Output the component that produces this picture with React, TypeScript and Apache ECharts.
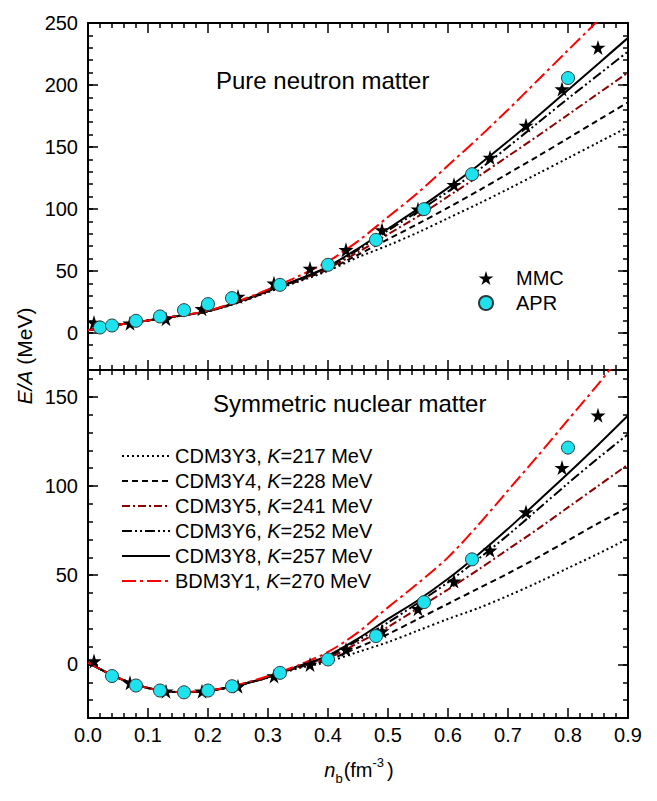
import React, { useEffect, useRef } from 'react';
import * as echarts from 'echarts';

// ---------- data ----------
const densityGrid = [0, 0.05, 0.1, 0.15, 0.2, 0.25, 0.3, 0.35, 0.4, 0.45, 0.5, 0.55, 0.6, 0.65, 0.7, 0.75, 0.8, 0.85, 0.9];

const models = ['CDM3Y3', 'CDM3Y4', 'CDM3Y5', 'CDM3Y6', 'CDM3Y8', 'BDM3Y1'];
const kValues = [217, 228, 241, 252, 257, 270];

// Pure neutron matter E/A (MeV)
const pnmY3 = [2, 6.5, 10, 13.5, 17.5, 24.2, 32.8, 41.2, 50, 61, 70.5, 81, 92.5, 104, 116, 128.5, 141, 153.5, 166];
const pnmY4 = [2, 6.5, 10, 13.5, 17.5, 24.4, 33.2, 41.8, 51, 63, 75.5, 88, 101, 114.5, 128.5, 142.5, 157, 171.5, 186];
const pnmY5 = [2, 6.5, 10, 13.5, 17.5, 24.6, 33.5, 42.3, 52, 65, 79.5, 94, 110, 126, 142.5, 159, 176, 193, 210];
const pnmY6 = [2, 6.5, 10, 13.5, 17.5, 24.8, 33.8, 42.8, 53, 67, 82.5, 98, 114, 131, 150, 169.5, 189, 208, 227];
const pnmY8 = [2, 6.5, 10, 13.5, 17.5, 25, 34, 43, 53.5, 68, 84, 100, 117, 135, 154.5, 175, 196, 217, 238];
const pnmB1 = [2, 6.5, 10, 13.5, 17.8, 25.5, 35, 45.5, 57.5, 74, 93.5, 113, 135, 157, 180, 204, 228, 252, 277];

// Symmetric nuclear matter E/A (MeV)
const snmY3 = [1, -7.5, -13.2, -15.5, -14.8, -11.7, -7.4, -2.2, 1.5, 7, 12.5, 19, 25.5, 31.5, 38.5, 46, 54, 62, 70.5];
const snmY4 = [1, -7.5, -13.2, -15.5, -14.8, -11.7, -7.3, -1.8, 2.5, 9.5, 17, 25.5, 34, 42.5, 51, 60, 69.5, 79, 88];
const snmY5 = [1, -7.5, -13.2, -15.5, -14.8, -11.7, -7.2, -1.5, 3.5, 12, 21, 31.5, 42, 53, 64.5, 76, 88, 100, 112];
const snmY6 = [1, -7.5, -13.2, -15.5, -14.8, -11.7, -7.1, -1.2, 4.5, 13.5, 23.5, 34.5, 46, 59, 72.5, 87, 101.5, 115.5, 129];
const snmY8 = [1, -7.5, -13.2, -15.5, -14.8, -11.7, -7, -1, 5, 14.5, 25.5, 36, 48, 61.5, 76, 91.5, 107, 123, 139.5];
const snmB1 = [1, -7.5, -13.2, -15.5, -14.6, -11.4, -6.5, -0.5, 7, 18, 32, 45.5, 60, 78, 97.5, 117, 137, 157, 178];

// MMC points
const mmcDensity = [0.01, 0.07, 0.13, 0.19, 0.25, 0.31, 0.37, 0.43, 0.49, 0.55, 0.61, 0.67, 0.73, 0.79, 0.85];
const mmcPNM = [8.3, 7.8, 11.3, 19.4, 29.3, 40, 52, 67, 83, 99.8, 119.5, 141.5, 167.4, 196.7, 230.3];
const mmcSNM = [1.9, -10.3, -15, -15, -12.2, -6.5, 0, 8.4, 18.7, 31.2, 46.7, 64, 85.4, 110.3, 139.6];

// APR points
const aprDensityPNM = [0.02, 0.04, 0.08, 0.12, 0.16, 0.2, 0.24, 0.32, 0.4, 0.48, 0.56, 0.64, 0.8];
const aprPNM = [4.3, 5.9, 9.7, 13.2, 18.3, 23.2, 28, 38.7, 54.9, 75, 99.8, 128, 205.6];
const aprDensitySNM = [0.04, 0.08, 0.12, 0.16, 0.2, 0.24, 0.32, 0.4, 0.48, 0.56, 0.64, 0.8];
const aprSNM = [-6.5, -11.8, -14.6, -15.6, -14.6, -12.2, -4.7, 2.8, 15.9, 34.9, 58.9, 121.5];

// axis ticks
const pnmYTicks = [0, 50, 100, 150, 200, 250];
const snmYTicks = [0, 50, 100, 150];
const pnmRange = [-30, 250];
const snmRange = [-30, 165];

// ---------- styles ----------
const FONT = '"Liberation Sans", Arial, Helvetica, sans-serif';
const lineColors = ['#000000', '#000000', '#8B0000', '#000000', '#000000', '#FF0000'];
const lineDashes: any[] = [[2, 3], [6, 4], [8, 3, 2, 3], [10, 3, 2, 3, 2, 3], 'solid', [14, 4, 3, 4]];
const STAR = 'path://M50,0 L61,35 L98,35 L68,57 L79,91 L50,70 L21,91 L32,57 L2,35 L39,35 Z';

function minorValues(min: number, max: number, step: number) {
  const out: number[] = [];
  for (let v = Math.ceil(min / step) * step; v <= max + 1e-9; v += step) out.push(Math.round(v));
  return out;
}

function buildOption() {
  const axisLineStyle = { color: '#000', width: 2 };
  const tickStyle = { color: '#000', width: 1.5 };

  const xAxes: any[] = [];
  [0, 1].forEach((g) => {
    ['bottom', 'top'].forEach((pos) => {
      xAxes.push({
        type: 'value', gridIndex: g, position: pos, min: 0, max: 0.9, interval: 0.1,
        axisLine: { show: true, onZero: false, lineStyle: axisLineStyle },
        axisTick: { show: true, inside: true, length: 10, lineStyle: tickStyle },
        minorTick: { show: true, splitNumber: 5, length: 5, lineStyle: tickStyle },
        splitLine: { show: false }, minorSplitLine: { show: false },
        axisLabel: {
          show: g === 1 && pos === 'bottom',
          formatter: (v: number) => v.toFixed(1),
          fontSize: 20, color: '#000', fontFamily: FONT, margin: 7,
        },
      });
    });
  });

  const yAxes: any[] = [];
  const ranges = [pnmRange, snmRange];
  const majors = [pnmYTicks, snmYTicks];
  [0, 1].forEach((g) => {
    const [mn, mx] = ranges[g];
    const minors = minorValues(mn, mx, 10);
    ['left', 'right'].forEach((pos) => {
      [true, false].forEach((isMajor) => {
        yAxes.push({
          type: 'value', gridIndex: g, position: pos, min: mn, max: mx,
          axisLine: { show: isMajor, onZero: false, lineStyle: axisLineStyle },
          axisTick: {
            show: true, inside: true, length: isMajor ? 10 : 5,
            customValues: isMajor ? majors[g] : minors, lineStyle: tickStyle,
          },
          splitLine: { show: false },
          axisLabel: {
            show: isMajor && pos === 'left', customValues: majors[g],
            fontSize: 20, color: '#000', fontFamily: FONT, margin: 10,
          },
        });
      });
    });
  });

  const pnmLines = [pnmY3, pnmY4, pnmY5, pnmY6, pnmY8, pnmB1];
  const snmLines = [snmY3, snmY4, snmY5, snmY6, snmY8, snmB1];
  const series: any[] = [];
  [pnmLines, snmLines].forEach((lines, g) => {
    lines.forEach((vals, i) => {
      series.push({
        type: 'line', name: models[i], xAxisIndex: g * 2, yAxisIndex: g * 4,
        data: densityGrid.map((x, j) => [x, vals[j]]),
        symbol: 'none', showSymbol: false, smooth: 0.3, clip: true, z: 2,
        lineStyle: { color: lineColors[i], width: 2, type: lineDashes[i] },
        itemStyle: { color: 'rgba(0,0,0,0)', opacity: 0 },
      });
    });
  });
  const mmcSets = [mmcPNM, mmcSNM];
  const aprSets = [[aprDensityPNM, aprPNM], [aprDensitySNM, aprSNM]];
  [0, 1].forEach((g) => {
    series.push({
      type: 'scatter', name: 'MMC', xAxisIndex: g * 2, yAxisIndex: g * 4,
      data: mmcDensity.map((x, j) => [x, mmcSets[g][j]]),
      symbol: STAR, symbolSize: 15, z: 4,
      itemStyle: { color: '#000', opacity: 1 },
    });
    series.push({
      type: 'scatter', name: 'APR', xAxisIndex: g * 2, yAxisIndex: g * 4,
      data: aprSets[g][0].map((x, j) => [x, aprSets[g][1][j]]),
      symbol: 'circle', symbolSize: 13, z: 5,
      itemStyle: { color: '#1EE3EE', borderColor: '#2a3a3c', borderWidth: 1, opacity: 1 },
    });
  });

  return {
    animation: false,
    backgroundColor: '#fff',
    textStyle: { fontFamily: FONT },
    grid: [
      { left: 88, top: 23, width: 540, height: 347, containLabel: false },
      { left: 88, top: 370, width: 540, height: 348, containLabel: false },
    ],
    xAxis: xAxes,
    yAxis: yAxes,
    legend: [
      {
        data: models, orient: 'vertical', left: 121, top: 446, padding: 0,
        itemWidth: 48, itemHeight: 14, itemGap: 5, selectedMode: false,
        itemStyle: { opacity: 0 },
        formatter: (name: string) => `${name}, {i|K}=${kValues[models.indexOf(name)]} MeV`,
        textStyle: {
          fontSize: 20, color: '#000', fontFamily: FONT,
          rich: { i: { fontStyle: 'italic', fontSize: 20, color: '#000', fontFamily: FONT } },
        },
      },
      {
        data: ['MMC', 'APR'], orient: 'vertical', left: 478, top: 268, padding: 0,
        itemWidth: 50, itemHeight: 14, itemGap: 5, selectedMode: false,
        textStyle: { fontSize: 20, color: '#000', fontFamily: FONT },
      },
    ],
    graphic: [
      {
        type: 'text', x: 216, y: 80,
        style: { text: 'Pure neutron matter', fontSize: 24, fontFamily: FONT, fill: '#000', verticalAlign: 'middle', align: 'left' },
      },
      {
        type: 'text', x: 213, y: 403,
        style: { text: 'Symmetric nuclear matter', fontSize: 24, fontFamily: FONT, fill: '#000', verticalAlign: 'middle', align: 'left' },
      },
      {
        type: 'text', x: 24, y: 356, rotation: Math.PI / 2,
        style: {
          text: '{i|E/A} (MeV)', fontSize: 21, fontFamily: FONT, fill: '#000', align: 'center', verticalAlign: 'middle',
          rich: { i: { fontStyle: 'italic', fontSize: 21, fontFamily: FONT, fill: '#000' } },
        },
      },
      {
        type: 'text', x: 359, y: 770,
        style: {
          text: '{i|n}{sub|b}(fm{sup|-3})', fontSize: 20, fontFamily: FONT, fill: '#000', align: 'center', verticalAlign: 'middle',
          rich: {
            i: { fontStyle: 'italic', fontSize: 20, fontFamily: FONT, fill: '#000' },
            sub: { fontSize: 13, fontFamily: FONT, fill: '#000', padding: [16, 1, 0, 0] },
            sup: { fontSize: 13, fontFamily: FONT, fill: '#000', padding: [0, 3, 16, 0] },
          },
        },
      },
    ],
    series,
  };
}

export default function App() {
  const ref = useRef<HTMLDivElement>(null);
  useEffect(() => {
    if (!ref.current) return;
    const chart = echarts.init(ref.current, undefined, { renderer: 'svg' });
    chart.setOption(buildOption() as any);
    return () => chart.dispose();
  }, []);
  return (
    <div
      ref={ref}
      style={{ position: 'absolute', left: 0, top: 0, width: 657, height: 801, background: '#fff' }}
    />
  );
}
